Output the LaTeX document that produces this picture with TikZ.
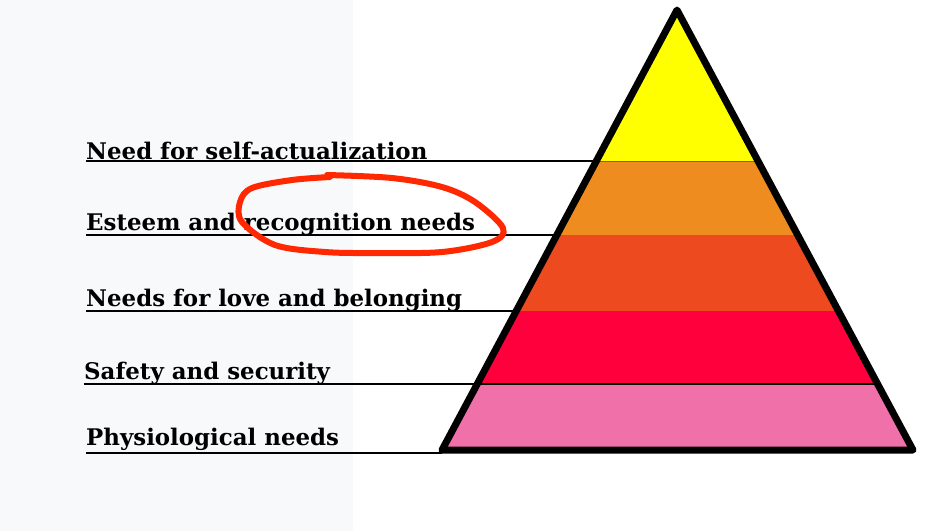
\documentclass[tikz,border=0pt]{standalone}
\usepackage{fontspec}
\setmainfont{DejaVu Serif}
\usetikzlibrary{calc}

\definecolor{panelgray}{HTML}{F7F9FB}
\definecolor{tierone}{HTML}{FFFF00}
\definecolor{tiertwo}{HTML}{EE8C20}
\definecolor{tierthree}{HTML}{EE4A20}
\definecolor{tierfour}{HTML}{FF003C}
\definecolor{tierfive}{HTML}{F070AA}
\definecolor{markred}{HTML}{FF2800}

\begin{document}
\begin{tikzpicture}[
  x=1pt, y=-1pt,
  lbl/.style={anchor=base west, inner sep=0pt, font=\fontsize{22.9}{27}\selectfont\bfseries},
  rule/.style={line width=1.3pt},
  ring/.style={draw=markred, line width=6pt, line cap=round, line join=round}
]
  \useasboundingbox (0,0) rectangle (945,531);
  \fill[panelgray] (0,0) rectangle (353,531);

  % pyramid corners and tier edges
  \coordinate (apex) at (677,10);
  \coordinate (bl) at (442,450);
  \coordinate (br) at (913,450);
  \coordinate (l1) at (596.4,161); \coordinate (r1) at (758.4,161);
  \coordinate (l2) at (556.8,235); \coordinate (r2) at (797.7,235);
  \coordinate (l3) at (516.2,311); \coordinate (r3) at (838.4,311);
  \coordinate (l4) at (477.2,384); \coordinate (r4) at (877.6,384);

  \fill[tierone] (apex) -- (r1) -- (l1) -- cycle;
  \fill[tiertwo] (l1) -- (r1) -- (r2) -- (l2) -- cycle;
  \fill[tierthree] (l2) -- (r2) -- (r3) -- (l3) -- cycle;
  \fill[tierfour] (l3) -- (r3) -- (r4) -- (l4) -- cycle;
  \fill[tierfive] (l4) -- (r4) -- (br) -- (bl) -- cycle;
  \draw[line width=0.8pt, black!60] (l1) -- (r1);
  \draw[line width=1.2pt] (l4) -- (r4);
  \draw[line width=7pt, line join=round] (apex) -- (br) -- (bl) -- cycle;

  % labels
  \node[lbl] (t1) at (86,159) {Need for self-actualization};
  \node[lbl] (t2) at (86,230) {Esteem and recognition needs};
  \node[lbl] (t3) at (86,306) {Needs for love and belonging};
  \node[lbl] (t4) at (84,379) {Safety and security};
  \node[lbl] (t5) at (86,445) {Physiological needs};
  \draw[rule] (t1.base west |- l1) -- (l1);
  \draw[rule] (t2.base west |- l2) -- (l2);
  \draw[rule] (t3.base west |- l3) -- (l3);
  \draw[rule] (t4.base west |- l4) -- (l4);
  \draw[rule] ($(t5.base west |- bl)+(0,3)$) -- ($(bl)+(0,3)$);

  % hand-drawn mark
  \draw[ring] plot[smooth, tension=0.55] coordinates {
    (327,175) (392,178) (442,187) (475,202) (503,228) (492,242)
    (442,252) (375,253) (325,252) (275,245) (242,222) (240,202)
    (252,188) (292,180) (330,177)};
\end{tikzpicture}
\end{document}
